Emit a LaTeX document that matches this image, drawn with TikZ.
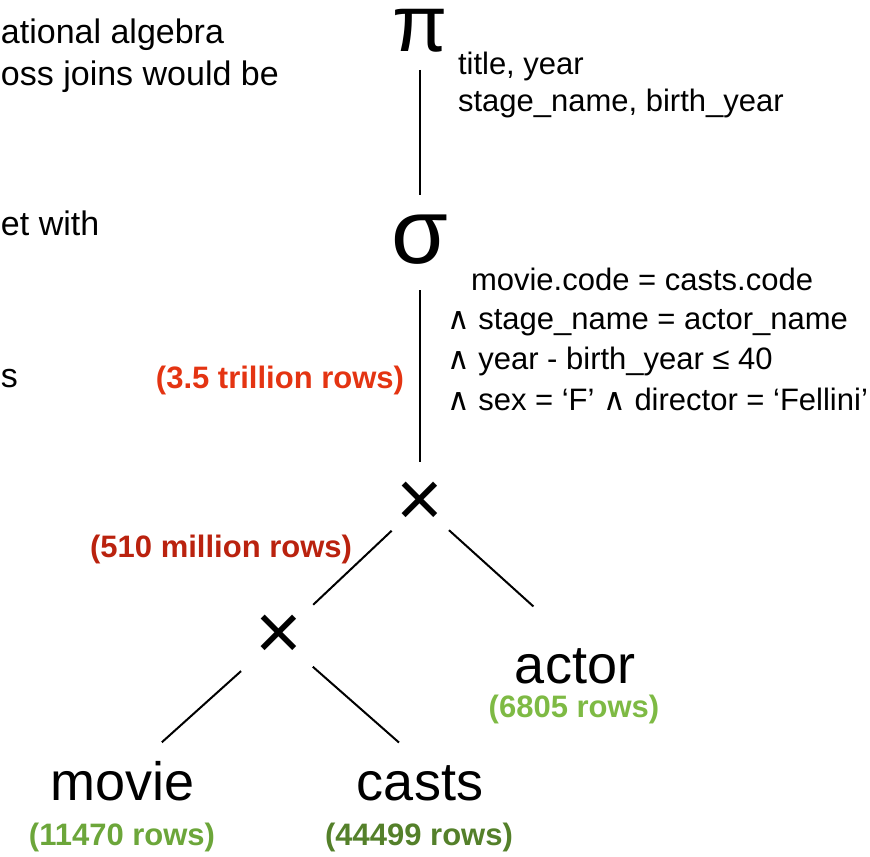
\documentclass[tikz,border=0pt]{standalone}
\usepackage{fontspec}
\setmainfont{Liberation Sans}
\newfontfamily\symfam{DejaVu Sans}
\definecolor{bigred}{RGB}{228,52,18}
\definecolor{darkred}{RGB}{186,34,14}
\definecolor{lightgreen}{RGB}{126,186,68}
\definecolor{midgreen}{RGB}{108,166,58}
\definecolor{darkgreen}{RGB}{84,128,42}
\newcommand{\andsym}{{\symfam\fontsize{15.5}{15.5}\selectfont ∧}}

\begin{document}
\begin{tikzpicture}[x=0.5pt,y=-0.5pt,line width=1pt,
  op node/.style={inner sep=0pt,font=\fontsize{40}{40}\selectfont},
  table node/.style={inner sep=0pt,anchor=base,text height=19pt,text depth=0pt,font=\fontsize{27}{27}\selectfont},
  rows node/.style={inner sep=0pt,anchor=base,font=\fontsize{15.5}{15.5}\selectfont\bfseries},
  cond node/.style={inner sep=0pt,anchor=base west,font=\fontsize{15.5}{15.5}\selectfont},
  slide node/.style={inner sep=0pt,anchor=base west,font=\fontsize{17}{17}\selectfont}]

  \useasboundingbox (0,0) rectangle (870,856);

  % text of the slide, cut off at the left
  \node[slide node] (slide1) at (0,44) {ational algebra};
  \node[slide node] (slide2) at (0,85) {oss joins would be};
  \node[slide node] (slide3) at (0,235) {et with};
  \node[slide node] (slide4) at (0,387) {s};

  % operators
  \node[op node,anchor=base,text height=20pt,text depth=0pt,font=\fontsize{40}{40}\selectfont] (proj) at (420,52) {π};
  \node[op node,font=\fontsize{46}{46}\selectfont] (sel) at (420,240) {σ};
  \node[op node] (j1) at (420,504) {×};
  \node[op node] (j2) at (279,637) {×};

  % tables
  \node[table node] (actor) at (575,683) {actor};
  \node[table node] (movie) at (123,800) {movie};
  \node[table node] (casts) at (420,800) {casts};

  \node[rows node,text=lightgreen] (actorrows) at (574,717) {(6805 rows)};
  \node[rows node,text=midgreen] (movierows) at (122,845) {(11470 rows)};
  \node[rows node,text=darkgreen] (castsrows) at (419,845) {(44499 rows)};
  \node[rows node,anchor=base east,text=bigred] (crossrows) at (405,388) {(3.5 trillion rows)};
  \node[rows node,anchor=base east,text=darkred] (joinrows) at (353,557) {(510 million rows)};

  % projection list
  \node[cond node] (attr1) at (457,75) {title, year};
  \node[cond node] (attr2) at (457,112) {stage\_name, birth\_year};

  % selection condition
  \node[cond node] (cond1) at (470,290) {movie.code = casts.code};
  \node[cond node] (cond2) at (446,329) {\andsym\ stage\_name = actor\_name};
  \node[cond node] (cond3) at (446,369) {\andsym\ year - birth\_year ≤ 40};
  \node[cond node] (cond4) at (446,410) {\andsym\ sex = ‘F’ \andsym\ director = ‘Fellini’};

  \path
    (proj.base) edge[shorten <=9pt,shorten >=22.5pt] (sel.center)
    (sel.center) edge[shorten <=25pt,shorten >=21pt] (j1.center)
    (j1.center) edge[shorten <=19.5pt,shorten >=23.5pt] (j2.center)
    (j1.center) edge[shorten <=19.5pt,shorten >=28pt] (actor.north)
    (j2.center) edge[shorten <=25.5pt,shorten >=14pt] ([xshift=9pt]movie.north)
    (j2.center) edge[shorten <=22.5pt,shorten >=14pt] (casts.north);
\end{tikzpicture}
\end{document}
